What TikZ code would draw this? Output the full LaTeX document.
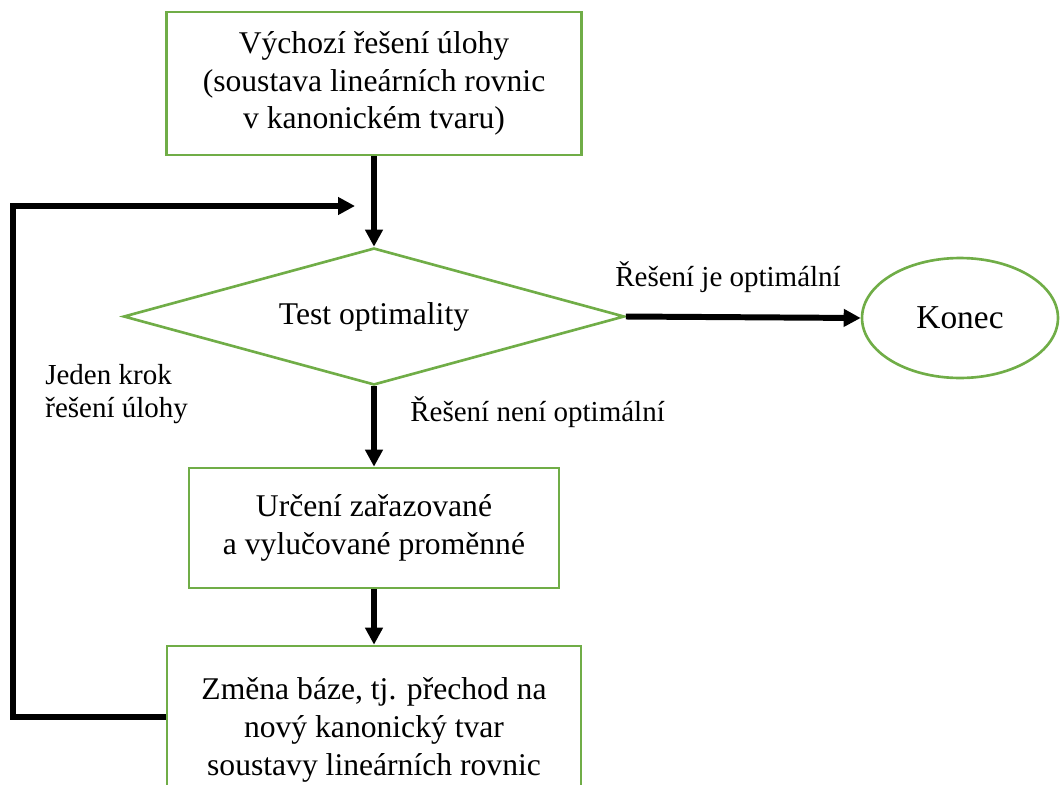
\documentclass[tikz,border=0pt]{standalone}
\usepackage{fontspec}
\setmainfont{Liberation Serif}
\usetikzlibrary{arrows.meta, shapes.geometric, positioning}
\definecolor{boxgreen}{RGB}{112,173,71}

\begin{document}
\begin{tikzpicture}[
  x=0.02cm, y=-0.02cm,
  font=\fontsize{18}{21.5}\selectfont,
  box/.style={draw=boxgreen, line width=1.5pt, align=center, inner sep=0pt},
  arr/.style={-{Triangle[length=0.34cm, width=0.34cm]}, line width=3.4pt},
  lbl/.style={align=left, inner sep=0pt, font=\fontsize{16.5}{18.7}\selectfont}
]
\useasboundingbox (0,0) rectangle (1061,784);

\node[box, minimum width=8.3cm, minimum height=2.86cm] (init) at (374, 83.5)
  {Výchozí řešení úlohy\\(soustava lineárních rovnic\\v kanonickém tvaru)};

\node[box, diamond, aspect=3.6, minimum width=10.02cm, minimum height=2.74cm]
  (test) at (374, 316.5) {Test optimality};
\draw[arr] (init.south) -- (test.north);

\node[box, ellipse, minimum width=3.92cm, minimum height=2.4cm,
      font=\fontsize{19}{21.5}\selectfont] (end) at (960, 318) {Konec};
\draw[arr] (test.east) -- (end.west);
\node[lbl] (yes) at (728, 277) {Řešení je optimální};

\node[box, minimum width=7.4cm, minimum height=2.4cm] (choose) at (374, 528)
  {Určení zařazované\\a vylučované proměnné};
\draw[arr] (test.south) -- (choose.north);
\node[lbl, anchor=west] (no) at (410, 412) {Řešení není optimální};

\node[box, minimum width=8.28cm, minimum height=3.36cm] (change) at (374, 730)
  {Změna báze, tj. přechod na\\nový kanonický tvar\\soustavy lineárních rovnic};
\draw[arr] (choose.south) -- (change.north);

% loop back
\coordinate (back) at (355, 206);
\draw[arr] ([yshift=0.26cm]change.west) -- ++(-153,0) |- (back);
\node[lbl, anchor=west] (step) at (45, 394) {Jeden krok\\řešení úlohy};

\end{tikzpicture}
\end{document}
